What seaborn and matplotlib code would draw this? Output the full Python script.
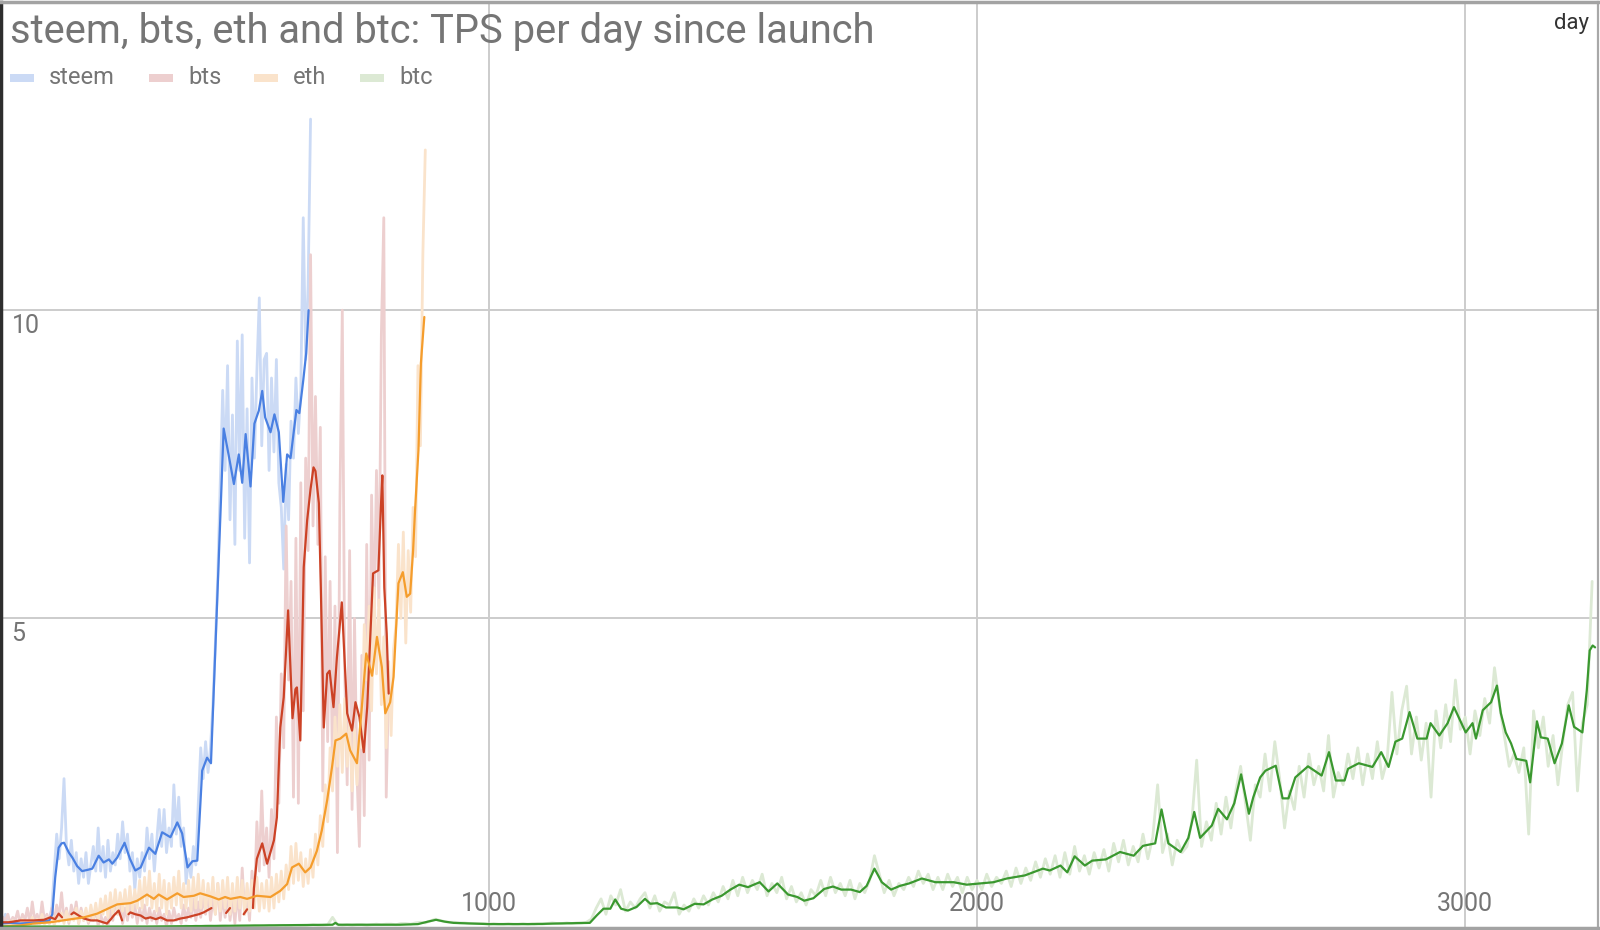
import matplotlib

matplotlib.use("Agg")
import matplotlib.pyplot as plt
import numpy as np
import pandas as pd
import seaborn as sns
from matplotlib.patches import Rectangle

TITLE = "steem, bts, eth and btc: TPS per day since launch"
X_LABEL = "day"
SERIES = ["steem", "bts", "eth", "btc"]
XTICKS = [1000, 2000, 3000]
YTICKS = [5, 10]

# ───────────────────────── raw daily TPS (faint lines) ─────────────────────────
STEEM_RAW_STEP = 5
steem_raw = [
    0.1, 0.05, 0.2, 0.05, 0.08, 0.05, 0.1, 0.05, 0.06, 0.1,
    0.05, 0.08, 0.05, 0.07, 0.1, 0.05, 0.08, 0.06, 0.1, 0.07,
    0.12, 0.3, 0.9, 1.5, 1.1, 1.6, 2.4, 1.3, 1.0, 1.4,
    0.9, 1.2, 0.7, 1.1, 0.8, 1.2, 0.7, 1.0, 1.3, 0.9,
    1.6, 0.9, 1.3, 0.8, 1.4, 0.9, 1.2, 1.0, 1.5, 1.1,
    1.7, 1.2, 1.5, 0.9, 1.2, 0.6, 1.1, 0.8, 1.2, 0.9,
    1.6, 1.1, 1.5, 0.9, 1.4, 1.9, 1.3, 1.9, 1.2, 1.6,
    1.3, 2.3, 1.5, 2.1, 1.3, 1.6, 0.7, 1.1, 0.8, 1.3,
    1.0, 2.0, 2.9, 2.4, 3.0, 2.5, 2.9, 3.6, 4.6, 5.7,
    7.2, 8.7, 7.4, 9.1, 6.6, 8.3, 6.2, 9.5, 7.4, 9.6,
    6.3, 8.4, 5.9, 8.9, 7.6, 9.0, 10.2, 7.8, 9.2, 9.3,
    7.4, 8.9, 7.7, 9.2, 7.2, 6.8, 5.8, 7.5, 6.6, 8.2,
    7.6, 8.9, 8.0, 8.7, 11.5, 9.2, 10.4, 13.1,
]

BTS_RAW_STEP = 5
bts_raw = [
    0.05, 0.15, 0.1, 0.2, 0.05, 0.15, 0.1, 0.25, 0.05, 0.2,
    0.1, 0.3, 0.05, 0.4, 0.1, 0.2, 0.05, 0.4, 0.1, 0.2,
    0.05, 0.3, 0.1, 0.35, 0.15, 0.55, 0.1, 0.3, 0.05, 0.35,
    0.15, 0.4, 0.05, 0.3, 0.1, 0.25, 0.05, 0.2, 0.1, 0.3,
    0.0, 0.2, 0.05, 0.15, 0.0, 0.3, 0.1, 0.45, 0.2, 0.4,
    0.05, 0.3, 0.1, 0.4, 0.15, 0.35, 0.05, 0.3, 0.1, 0.35,
    0.05, 0.3, 0.1, 0.25, 0.05, 0.3, 0.1, 0.2, 0.0, 0.25,
    0.05, 0.3, 0.1, 0.2, 0.05, 0.35, 0.1, 0.3, 0.15, 0.45,
    0.1, 0.4, 0.15, 0.5, 0.2, 0.6, 0.1, 0.45, 0.2, 0.7,
    0.1, 0.5, 0.15, 0.6, 0.1, 0.45, 0.05, 0.55, 0.1, 0.95,
    0.2, 0.5, 0.1, 0.9, 0.4, 1.7, 0.9, 2.2, 1.0, 1.6,
    0.8, 1.9, 1.1, 3.4, 2.0, 4.1, 2.9, 6.5, 4.0, 5.6,
    2.1, 6.3, 2.0, 7.2, 3.5, 7.6, 6.1, 10.9, 6.5, 8.6,
    6.2, 8.1, 2.2, 6.0, 3.0, 5.6, 2.4, 5.2, 1.2, 6.8,
    10.0, 4.1, 2.3, 6.1, 1.9, 5.0, 2.5, 1.3, 4.4, 1.8,
    6.2, 2.7, 7.0, 4.9, 7.4, 5.2, 9.6, 11.5, 2.1, 4.0,
]

ETH_RAW_STEP = 5
eth_raw = [
    0.0, 0.05, 0.0, 0.08, 0.02, 0.1, 0.0, 0.08, 0.03, 0.12,
    0.02, 0.1, 0.05, 0.15, 0.03, 0.12, 0.05, 0.2, 0.04, 0.15,
    0.05, 0.2, 0.02, 0.18, 0.08, 0.22, 0.05, 0.25, 0.08, 0.2,
    0.1, 0.3, 0.05, 0.25, 0.1, 0.3, 0.08, 0.35, 0.12, 0.38,
    0.1, 0.45, 0.2, 0.5, 0.15, 0.55, 0.2, 0.6, 0.2, 0.55,
    0.25, 0.6, 0.2, 0.65, 0.25, 0.6, 0.3, 0.75, 0.3, 0.8,
    0.35, 0.9, 0.3, 0.7, 0.25, 0.85, 0.3, 0.75, 0.2, 0.7,
    0.3, 0.8, 0.35, 0.9, 0.3, 0.7, 0.3, 0.75, 0.25, 0.8,
    0.3, 0.85, 0.3, 0.75, 0.25, 0.7, 0.3, 0.8, 0.2, 0.7,
    0.25, 0.75, 0.3, 0.8, 0.2, 0.7, 0.25, 0.8, 0.3, 0.75,
    0.2, 0.7, 0.25, 0.75, 0.3, 0.8, 0.25, 0.7, 0.3, 0.75,
    0.25, 0.8, 0.3, 0.85, 0.4, 0.9, 0.45, 1.0, 0.6, 1.3,
    0.7, 1.35, 0.75, 1.2, 0.65, 1.1, 0.7, 1.25, 0.8, 1.5,
    1.0, 1.8, 1.3, 2.3, 1.7, 2.9, 2.2, 3.4, 2.6, 3.6,
    2.5, 3.7, 2.6, 3.3, 2.2, 3.2, 2.3, 3.1, 2.9, 4.9,
    4.0, 5.2, 3.5, 5.5, 4.1, 5.3, 3.6, 4.7, 2.9, 4.3,
    3.1, 4.5, 4.9, 6.2, 5.0, 6.4, 4.6, 6.1, 5.1, 6.8,
    6.0, 9.1, 7.8, 10.9, 12.6,
]

BTC_RAW_STEP = 10
btc_raw = [
    0, 0, 0, 0, 0, 0, 0, 0, 0, 0,
    0, 0, 0, 0, 0, 0, 0, 0, 0, 0,
    0, 0, 0, 0, 0, 0, 0, 0, 0, 0,
    0, 0, 0, 0, 0, 0.01, 0, 0, 0.01, 0,
    0.01, 0, 0.01, 0.01, 0, 0.01, 0.01, 0, 0.01, 0.01,
    0.01, 0.01, 0.02, 0.01, 0.01, 0.02, 0.01, 0.02, 0.02, 0.01,
    0.02, 0.02, 0.01, 0.02, 0.03, 0.02, 0.02, 0.03, 0.15, 0.03,
    0.02, 0.03, 0.02, 0.03, 0.03, 0.02, 0.03, 0.04, 0.03, 0.04,
    0.04, 0.03, 0.05, 0.05, 0.04, 0.06, 0.07, 0.06, 0.09, 0.12,
    0.1, 0.08, 0.07, 0.07, 0.06, 0.06, 0.05, 0.05, 0.05, 0.05,
    0.04, 0.05, 0.04, 0.04, 0.05, 0.04, 0.04, 0.05, 0.04, 0.05,
    0.05, 0.04, 0.05, 0.06, 0.05, 0.05, 0.06, 0.05, 0.06, 0.06,
    0.07, 0.12, 0.3, 0.45, 0.2, 0.5, 0.35, 0.6, 0.25, 0.4,
    0.3, 0.45, 0.55, 0.3, 0.5, 0.25, 0.4, 0.35, 0.55, 0.2,
    0.35, 0.25, 0.45, 0.3, 0.5, 0.35, 0.55, 0.4, 0.65, 0.45,
    0.75, 0.5, 0.8, 0.55, 0.75, 0.6, 0.85, 0.5, 0.7, 0.55,
    0.8, 0.45, 0.65, 0.4, 0.55, 0.35, 0.6, 0.5, 0.75, 0.5,
    0.8, 0.55, 0.7, 0.5, 0.75, 0.45, 0.7, 0.55, 0.75, 1.15,
    0.85, 0.55, 0.75, 0.5, 0.7, 0.6, 0.8, 0.65, 0.9, 0.7,
    0.85, 0.6, 0.8, 0.6, 0.85, 0.65, 0.8, 0.55, 0.8, 0.6,
    0.75, 0.6, 0.85, 0.65, 0.8, 0.7, 0.9, 0.65, 0.95, 0.7,
    0.95, 0.75, 1.05, 0.8, 1.1, 0.85, 1.15, 0.8, 1.2, 0.85,
    1.3, 0.9, 1.15, 0.85, 1.2, 0.95, 1.25, 0.9, 1.35, 1.05,
    1.4, 1.0, 1.3, 1.05, 1.5, 1.1, 1.45, 2.3, 1.2, 1.5,
    1.0, 1.4, 1.2, 1.3, 1.7, 2.7, 1.3, 1.7, 1.4, 2.0,
    1.5, 2.1, 1.6, 2.2, 2.6, 2.0, 1.4, 2.3, 2.1, 2.8,
    2.2, 3.0, 2.4, 1.6, 2.2, 1.9, 2.6, 2.1, 2.8, 2.3,
    2.6, 2.2, 3.1, 2.1, 2.5, 2.3, 2.8, 2.4, 2.9, 2.3,
    2.8, 2.4, 3.0, 2.4, 2.7, 3.8, 2.8, 3.5, 3.9, 2.8,
    3.4, 2.7, 3.3, 2.1, 3.5, 2.9, 3.6, 3.0, 4.0, 3.2,
    3.4, 2.8, 3.5, 3.1, 3.7, 3.3, 4.2, 3.6, 3.1, 2.6,
    2.8, 2.5, 2.9, 1.5, 3.5, 2.9, 3.4, 2.6, 3.1, 2.3,
    3.0, 3.6, 3.8, 2.2, 3.3, 3.6, 5.6,
]

# ───────────────────────── smoothed TPS (solid lines) ─────────────────────────
steem_days = [
    0, 20, 40, 60, 80, 100, 106, 112, 119, 125, 130, 140, 147, 157, 167, 178,
    188, 201, 211, 222, 229, 239, 254, 265, 276, 287, 304, 317, 331, 348, 362,
    372, 383, 393, 403, 413, 423, 431, 444, 457, 467, 478, 488, 495, 502, 512,
    520, 529, 536, 542, 553, 561, 570, 579, 587, 594, 606, 612, 620, 626, 631,
]
steem_tps = [
    0.05, 0.06, 0.05, 0.06, 0.07, 0.1, 0.2, 0.8, 1.28, 1.35, 1.36, 1.2, 1.12,
    0.98, 0.9, 0.92, 0.94, 1.15, 1.04, 1.09, 1.02, 1.12, 1.36, 1.1, 0.91, 0.96,
    1.28, 1.18, 1.53, 1.45, 1.69, 1.51, 0.96, 1.06, 1.07, 2.53, 2.74, 2.65,
    5.34, 8.08, 7.66, 7.18, 7.66, 7.2, 7.99, 7.14, 8.16, 8.37, 8.69, 8.26, 8.02,
    8.31, 8.02, 6.89, 7.66, 7.6, 8.38, 8.33, 8.86, 9.3, 10.0,
]

# NaN marks a gap in the smoothed bts line
bts_days = [
    5, 17, 41, 68, 89, 102, 112, 119, 126, 131, 145, 150, 160, 171, 185, 198,
    210, 218, 226, 232, 242, 249, 255, 262, 266, 276, 287, 297, 307, 318, 328,
    341, 355, 368, 382, 396, 406, 416, 425, 432, 436, 462, 470, 475, 498, 505,
    510, 517, 519, 525, 536, 546, 560, 566, 573, 580, 589, 598, 604, 607, 614,
    621, 628, 635, 641, 645, 652, 656, 662, 669, 674, 682, 689, 699, 710, 720,
    727, 735, 744, 751, 763, 774, 779, 782, 786, 791, 795,
]
bts_tps = [
    0.07, 0.07, 0.1, 0.1, 0.11, 0.15, 0.12, 0.21, 0.15, np.nan, 0.2, 0.23, 0.18,
    0.13, 0.1, 0.1, 0.07, 0.05, 0.12, 0.18, 0.26, 0.1, np.nan, 0.2, 0.23, 0.2,
    0.18, 0.13, 0.15, 0.12, 0.15, 0.1, 0.1, 0.13, 0.15, 0.18, 0.2, 0.23, 0.27,
    0.3, np.nan, 0.22, 0.3, np.nan, 0.2, 0.28, np.nan, 0.3, 0.62, 1.1, 1.35,
    1.02, 1.4, 1.77, 3.23, 3.72, 5.13, 3.38, 3.85, 3.88, 3.02, 5.83, 6.59, 7.1,
    7.45, 7.39, 6.87, 5.5, 3.23, 4.1, 4.15, 3.56, 4.37, 5.26, 3.46, 3.18, 3.64,
    3.4, 2.83, 3.56, 5.73, 5.78, 6.8, 7.32, 5.5, 4.75, 3.78,
]

eth_days = [
    0, 20, 41, 68, 102, 136, 171, 198, 225, 239, 252, 266, 280, 300, 314, 324,
    341, 362, 375, 396, 409, 430, 447, 460, 471, 491, 505, 525, 553, 573, 587,
    597, 611, 624, 635, 648, 658, 669, 679, 686, 696, 708, 716, 730, 740, 749,
    761, 771, 781, 788, 798, 805, 815, 824, 832, 839, 845, 849, 856, 861, 868,
]
eth_tps = [
    0.0, 0.01, 0.02, 0.05, 0.07, 0.11, 0.15, 0.21, 0.31, 0.36, 0.37, 0.38, 0.42,
    0.52, 0.45, 0.52, 0.44, 0.54, 0.48, 0.5, 0.54, 0.49, 0.44, 0.48, 0.45, 0.48,
    0.45, 0.5, 0.48, 0.58, 0.69, 0.96, 1.02, 0.88, 0.96, 1.23, 1.56, 2.05, 2.59,
    3.02, 3.05, 3.13, 2.86, 2.65, 3.56, 4.43, 4.07, 4.7, 4.21, 3.46, 3.64, 4.05,
    5.57, 5.75, 5.35, 5.4, 6.1, 6.75, 7.73, 9.14, 9.89,
]

btc_days = [
    0, 300, 548, 680, 686, 692, 819, 855, 875, 892, 910, 928, 1001, 1093, 1139,
    1207, 1221, 1235, 1249, 1259, 1271, 1285, 1303, 1320, 1331, 1345, 1363,
    1386, 1399, 1422, 1440, 1458, 1477, 1495, 1513, 1531, 1555, 1573, 1591,
    1613, 1632, 1646, 1665, 1687, 1705, 1722, 1742, 1760, 1774, 1790, 1805,
    1824, 1842, 1861, 1887, 1915, 1952, 1979, 2006, 2034, 2061, 2098, 2135,
    2149, 2171, 2185, 2200, 2221, 2236, 2264, 2293, 2321, 2340, 2365, 2378,
    2392, 2417, 2433, 2445, 2457, 2481, 2494, 2512, 2527, 2541, 2557, 2566,
    2580, 2591, 2612, 2626, 2638, 2652, 2678, 2706, 2721, 2735, 2753, 2760,
    2782, 2810, 2828, 2843, 2857, 2871, 2886, 2902, 2921, 2929, 2947, 2964,
    2977, 3001, 3015, 3022, 3036, 3053, 3065, 3073, 3083, 3094, 3105, 3125,
    3133, 3147, 3155, 3169, 3183, 3198, 3212, 3223, 3240, 3249, 3255, 3261,
    3266,
]
btc_tps = [
    0.0, 0.0, 0.02, 0.03, 0.06, 0.03, 0.03, 0.04, 0.08, 0.11, 0.08, 0.06, 0.04,
    0.04, 0.05, 0.06, 0.18, 0.29, 0.29, 0.44, 0.29, 0.26, 0.32, 0.45, 0.37,
    0.38, 0.31, 0.31, 0.28, 0.37, 0.36, 0.44, 0.5, 0.6, 0.68, 0.64, 0.72, 0.57,
    0.7, 0.52, 0.48, 0.42, 0.46, 0.61, 0.65, 0.6, 0.6, 0.56, 0.66, 0.94, 0.72,
    0.6, 0.66, 0.7, 0.78, 0.72, 0.72, 0.68, 0.7, 0.72, 0.78, 0.83, 0.94, 0.91,
    0.99, 0.88, 1.14, 0.99, 1.07, 1.09, 1.21, 1.15, 1.31, 1.35, 1.9, 1.35, 1.21,
    1.44, 1.86, 1.44, 1.64, 1.91, 1.74, 2.0, 2.47, 1.83, 2.1, 2.42, 2.53, 2.61,
    2.08, 2.08, 2.42, 2.6, 2.45, 2.83, 2.37, 2.37, 2.56, 2.65, 2.59, 2.83, 2.59,
    3.0, 3.05, 3.48, 3.05, 3.05, 3.3, 3.1, 3.3, 3.56, 3.15, 3.3, 3.05, 3.51,
    3.64, 3.91, 3.46, 3.15, 2.97, 2.72, 2.69, 2.34, 3.33, 3.07, 3.05, 2.65,
    2.97, 3.59, 3.24, 3.15, 3.83, 4.48, 4.56, 4.53,
]

LINE_COLORS = {"steem": "#4a80e2", "bts": "#cc4226", "eth": "#f59d2c", "btc": "#3a982f"}
FAINT_COLORS = {"steem": "#cbdaf5", "bts": "#edcfcf", "eth": "#fae3cb", "btc": "#dce9d4"}
TEXT_GRAY = "#757575"


def raw_frame() -> pd.DataFrame:
    parts = []
    for name, vals, step in [
        ("steem", steem_raw, STEEM_RAW_STEP),
        ("bts", bts_raw, BTS_RAW_STEP),
        ("eth", eth_raw, ETH_RAW_STEP),
        ("btc", btc_raw, BTC_RAW_STEP),
    ]:
        parts.append(pd.DataFrame({
            "series": name,
            "day": np.arange(len(vals)) * step,
            "tps": vals,
        }))
    return pd.concat(parts, ignore_index=True)


def smooth_frame() -> pd.DataFrame:
    parts = []
    for name, days, vals in [
        ("steem", steem_days, steem_tps),
        ("bts", bts_days, bts_tps),
        ("eth", eth_days, eth_tps),
        ("btc", btc_days, btc_tps),
    ]:
        d = pd.DataFrame({"series": name, "day": days, "tps": vals})
        # every NaN starts a new segment so the line breaks there
        d["seg"] = d["tps"].isna().cumsum()
        parts.append(d.dropna())
    return pd.concat(parts, ignore_index=True)


sns.set_style("white")
plt.rcParams["font.family"] = ["Roboto", "DejaVu Sans"]

fig = plt.figure(figsize=(16, 9.3), dpi=100)
ax = fig.add_axes([0.00034, 0.00215, 0.99841, 0.9957])

sns.lineplot(data=raw_frame(), x="day", y="tps", hue="series", hue_order=SERIES,
             palette=FAINT_COLORS, estimator=None, linewidth=2.0, legend=False, ax=ax)
sns.lineplot(data=smooth_frame(), x="day", y="tps", hue="series", hue_order=SERIES,
             units="seg", palette=LINE_COLORS, estimator=None, linewidth=1.6,
             legend=False, ax=ax)

ax.set_xlim(0, 3272)
ax.set_ylim(-0.023, 15.0)
ax.set_xticks(XTICKS)
ax.set_yticks(YTICKS)
ax.tick_params(length=0, labelbottom=False, labelleft=False)
ax.grid(True, color="#cccccc", linewidth=1.4)
ax.set_axisbelow(True)
ax.set_xlabel("")
ax.set_ylabel("")

for side, col, lw in [("top", "#a3a3a3", 2.5), ("bottom", "#a3a3a3", 2.5),
                      ("right", "#a8a8a8", 1.6), ("left", "#2e2e2e", 2.5)]:
    ax.spines[side].set_visible(True)
    ax.spines[side].set_color(col)
    ax.spines[side].set_linewidth(lw)

# tick labels sit inside the plot, next to their grid lines
for v in YTICKS:
    ax.annotate(str(v), xy=(0, v), xycoords=("axes fraction", "data"),
                xytext=(11, -16), textcoords="offset pixels",
                ha="left", va="center", fontsize=18, color=TEXT_GRAY)
for v in XTICKS:
    ax.annotate(str(v), xy=(v, 0), xycoords=("data", "axes fraction"),
                xytext=(0, 24), textcoords="offset pixels",
                ha="center", va="center", fontsize=18, color=TEXT_GRAY)

fig.text(10 / 1600, 1 - 43 / 930, TITLE, fontsize=28.7, color=TEXT_GRAY,
         ha="left", va="baseline")
fig.text(1589 / 1600, 1 - 29 / 930, X_LABEL, fontsize=16, color="#333333",
         ha="right", va="baseline")

# legend: short faint swatch followed by the series name
legend_x = {"steem": 10, "bts": 149, "eth": 254, "btc": 360}
for name in SERIES:
    x0 = legend_x[name]
    fig.add_artist(Rectangle((x0 / 1600, 1 - 82 / 930), 24 / 1600, 8 / 930,
                             transform=fig.transFigure, color=FAINT_COLORS[name], lw=0))
    fig.text((x0 + 39) / 1600, 1 - 78 / 930, name, fontsize=17, color=TEXT_GRAY,
             ha="left", va="center")

fig.savefig("out.png", dpi=100)
